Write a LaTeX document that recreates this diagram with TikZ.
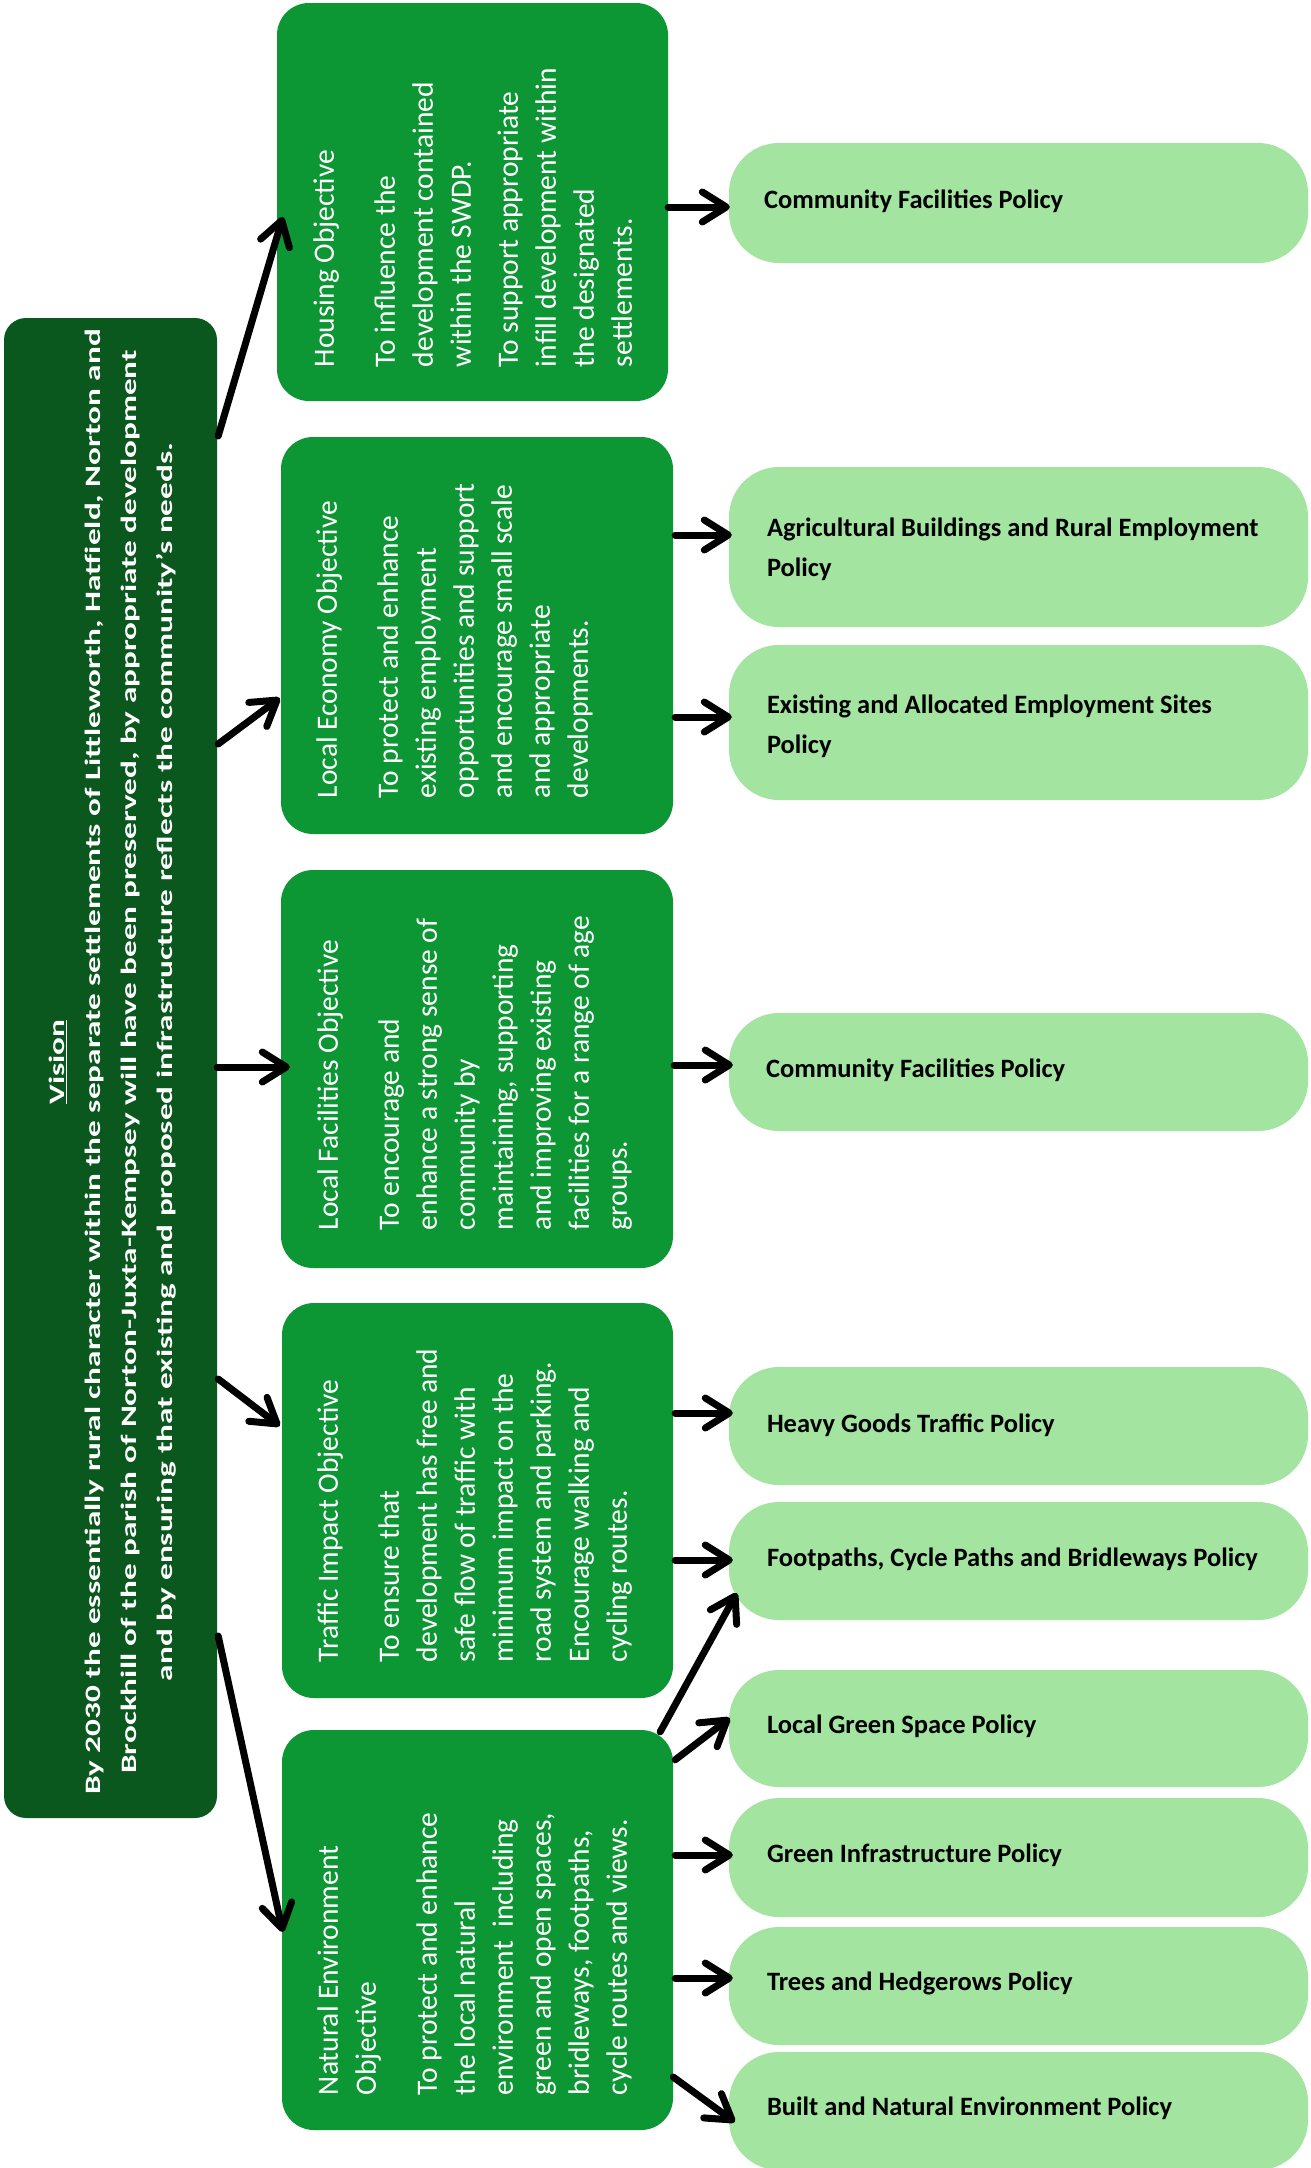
\documentclass[tikz,border=0pt]{standalone}
\usepackage{fontspec}
\setmainfont{Carlito}
\newfontfamily\visionfont{Carlito}[FakeStretch=1.51]
\usetikzlibrary{arrows.meta}
\definecolor{visiongreen}{RGB}{10,88,30}
\definecolor{objgreen}{RGB}{12,150,52}
\definecolor{polgreen}{RGB}{163,228,160}
\tikzset{
  objbox/.style={fill=objgreen, rounded corners=32pt, draw=none, inner sep=0pt},
  polbox/.style={fill=polgreen, rounded corners=50pt, draw=none, inner sep=0pt, minimum width=579pt},
  objtext/.style={rotate=90, anchor=base west, inner sep=0pt, text=white, font=\fontsize{29.5}{38}\selectfont},
  poltext/.style={inner sep=0pt, align=left, font=\fontsize{26.5}{40}\selectfont\bfseries},
  arr/.style={line width=7pt, line cap=round, -{Straight Barb[length=24pt,width=30pt,round]}},
}
\begin{document}
\begin{tikzpicture}[x=1pt,y=-1pt]
\fill[white] (0,0) rectangle (1311,2168);
\useasboundingbox (0,0) rectangle (1311,2168);

% Vision
\node[fill=visiongreen, rounded corners=22pt, inner sep=0pt, minimum width=213pt, minimum height=1500pt] (vision) at (110.5,1068) {};
\node[rotate=90, text=white, align=center, inner sep=0pt, font=\visionfont\bfseries\fontsize{22}{36}\selectfont] (vtext) at (113,1062)
 {\underline{Vision}\\
  By 2030 the essentially rural character within the separate settlements of Littleworth, Hatfield, Norton and\\
  Brockhill of the parish of Norton-Juxta-Kempsey will have been preserved, by appropriate development\\
  and by ensuring that existing and proposed infrastructure reflects the community’s needs.};

% Objectives
\node[objbox, minimum width=391pt, minimum height=398pt] (hous) at (472.5,202) {};
\node[objbox, minimum width=392pt, minimum height=397pt] (econ) at (477,635.5) {};
\node[objbox, minimum width=392pt, minimum height=398pt] (fac) at (477,1069) {};
\node[objbox, minimum width=391pt, minimum height=395pt] (traf) at (477.5,1500.5) {};
\node[objbox, minimum width=391pt, minimum height=400pt] (nat) at (477.5,1930) {};

\node[objtext] (houst) at ([xshift=57pt,yshift=34pt]hous.south west) {\parbox[t]{380pt}{\raggedright
 Housing Objective\\[23pt]
 To influence the\\ development contained\\ within the SWDP.\\[9pt]
 To support appropriate\\ infill development within\\ the designated\\ settlements.}};
\node[objtext] (econt) at ([xshift=56pt,yshift=36pt]econ.south west) {\parbox[t]{380pt}{\raggedright
 Local Economy Objective\\[23pt]
 To protect and enhance\\ existing employment\\ opportunities and support\\ and encourage small scale\\ and appropriate\\ developments.}};
\node[objtext] (fact) at ([xshift=57pt,yshift=38pt]fac.south west) {\parbox[t]{380pt}{\raggedright
 Local Facilities Objective\\[23pt]
 To encourage and\\ enhance a strong sense of\\ community by\\ maintaining, supporting\\ and improving existing\\ facilities for a range of age\\ groups.}};
\node[objtext] (traft) at ([xshift=56pt,yshift=36pt]traf.south west) {\parbox[t]{380pt}{\raggedright
 Traffic Impact Objective\\[23pt]
 To ensure that\\ development has free and\\ safe flow of traffic with\\ minimum impact on the\\ road system and parking.\\ Encourage walking and\\ cycling routes.}};
\node[objtext] (natt) at ([xshift=56pt,yshift=35pt]nat.south west) {\parbox[t]{380pt}{\raggedright
 Natural Environment\\ Objective\\[23pt]
 To protect and enhance\\ the local natural\\ environment\ \ including\\ green and open spaces,\\ bridleways, footpaths,\\ cycle routes and views.}};

% Policies
\node[polbox, minimum height=120pt] (cf1) at (1018.5,203) {};
\node[polbox, minimum height=160pt] (agri) at (1018.5,547) {};
\node[polbox, minimum height=155pt] (exist) at (1018.5,722.5) {};
\node[polbox, minimum height=118pt] (cf2) at (1018.5,1072) {};
\node[polbox, minimum height=118pt] (heavy) at (1018.5,1426) {};
\node[polbox, minimum height=118pt] (foot) at (1018.5,1561) {};
\node[polbox, minimum height=117pt] (lgs) at (1018.5,1728.5) {};
\node[polbox, minimum height=119pt] (gi) at (1018.5,1857.5) {};
\node[polbox, minimum height=118pt] (trees) at (1018.5,1986) {};
\node[polbox, minimum height=118pt] (built) at (1018.5,2111) {};

\node[poltext, anchor=base west] (cf1t) at ([xshift=35pt,yshift=-5pt]cf1.west) {Community Facilities Policy};
\node[poltext, anchor=west] (agrit) at ([xshift=38pt,yshift=-2pt]agri.west) {Agricultural Buildings and Rural Employment\\ Policy};
\node[poltext, anchor=west] (existt) at ([xshift=38pt,yshift=-4pt]exist.west) {Existing and Allocated Employment Sites\\ Policy};
\node[poltext, anchor=base west] (cf2t) at ([xshift=37pt,yshift=-5pt]cf2.west) {Community Facilities Policy};
\node[poltext, anchor=base west] (heavyt) at ([xshift=38pt,yshift=-6pt]heavy.west) {Heavy Goods Traffic Policy};
\node[poltext, anchor=base west] (foott) at ([xshift=38pt,yshift=-5pt]foot.west) {Footpaths, Cycle Paths and Bridleways Policy};
\node[poltext, anchor=base west] (lgst) at ([xshift=38pt,yshift=-5pt]lgs.west) {Local Green Space Policy};
\node[poltext, anchor=base west] (git) at ([xshift=38pt,yshift=-5pt]gi.west) {Green Infrastructure Policy};
\node[poltext, anchor=base west] (treest) at ([xshift=38pt,yshift=-4pt]trees.west) {Trees and Hedgerows Policy};
\node[poltext, anchor=base west] (builtt) at ([xshift=38pt,yshift=-4pt]built.west) {Built and Natural Environment Policy};

% Arrows: vision -> objectives
\draw[arr] ([xshift=1pt,yshift=632pt]vision.east) -- ([xshift=6pt,yshift=-15pt]hous.west);
\draw[arr] ([xshift=1pt,yshift=324pt]vision.east) -- ([xshift=-1pt,yshift=-62.5pt]econ.west);
\draw[arr] ([yshift=1pt]vision.east) -- ([xshift=9pt,yshift=2pt]fac.west);
\draw[arr] ([xshift=1pt,yshift=-311pt]vision.east) -- ([xshift=-2pt,yshift=74.5pt]traf.west);
\draw[arr] ([xshift=1pt,yshift=-568pt]vision.east) -- ([xshift=1pt,yshift=-2pt]nat.west);

% Arrows: objectives -> policies
\draw[arr] ([yshift=-5pt]hous.east) -- ([xshift=1pt,yshift=-4pt]cf1.west);
\draw[arr] ([xshift=2pt,yshift=100.5pt]econ.east) -- ([xshift=3pt,yshift=12pt]agri.west);
\draw[arr] ([xshift=2pt,yshift=-81.5pt]econ.east) -- ([xshift=3pt,yshift=5.5pt]exist.west);
\draw[arr] ([xshift=1pt,yshift=4pt]fac.east) -- ([xshift=4pt,yshift=7pt]cf2.west);
\draw[arr] ([xshift=2pt,yshift=87.5pt]traf.east) -- ([xshift=4pt,yshift=13pt]heavy.west);
\draw[arr] ([xshift=2pt,yshift=-59.5pt]traf.east) -- ([xshift=4pt,yshift=1pt]foot.west);
\draw[arr] ([xshift=-13pt,yshift=-2pt]nat.north east) -- ([xshift=8pt,yshift=-32pt]foot.west);
\draw[arr] ([xshift=2pt,yshift=-30pt]nat.north east) -- ([xshift=1pt,yshift=10.5pt]lgs.west);
\draw[arr] ([xshift=2pt,yshift=75pt]nat.east) -- ([xshift=4pt,yshift=2.5pt]gi.west);
\draw[arr] ([xshift=2pt,yshift=-48pt]nat.east) -- ([xshift=4pt,yshift=8pt]trees.west);
\draw[arr] ([yshift=-147pt]nat.east) -- ([xshift=6pt,yshift=-11pt]built.west);
\end{tikzpicture}
\end{document}
